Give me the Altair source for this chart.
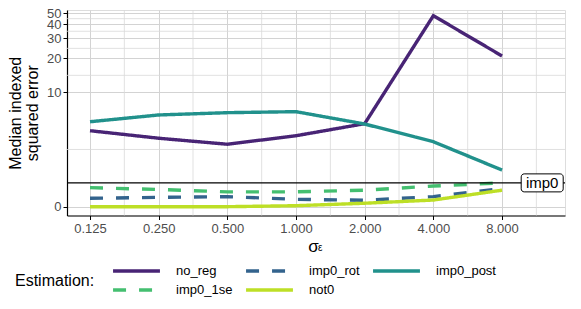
import altair as alt
import numpy as np
import pandas as pd

# ---- data ----
sigma = [0.125, 0.25, 0.5, 1.0, 2.0, 4.0, 8.0]
methods = ["no_reg", "imp0_rot", "imp0_post", "imp0_1se", "not0"]
no_reg = [4.43, 3.74, 3.25, 3.96, 5.17, 47.5, 21.0]
imp0_rot = [0.34, 0.38, 0.41, 0.30, 0.26, 0.41, 0.75]
imp0_post = [5.39, 6.23, 6.54, 6.68, 5.13, 3.45, 1.62]
imp0_1se = [0.79, 0.71, 0.61, 0.61, 0.68, 0.86, 1.00]
not0 = [0.0, 0.0, 0.0, 0.04, 0.14, 0.27, 0.68]
colors = ["#482475", "#33638D", "#21918C", "#44BF70", "#BDDF26"]
dashes = [[1, 0], [13, 13], [1, 0], [13, 13], [1, 0]]
y_breaks = [0, 10, 20, 30, 40, 50]
x_breaks = sigma
ref_value = [1.0]
ref_label = ["imp0"]
ref_label_x = [12.0]

series = {"no_reg": no_reg, "imp0_rot": imp0_rot, "imp0_post": imp0_post,
          "imp0_1se": imp0_1se, "not0": not0}
rows = []
for m in methods:
    for s, v in zip(sigma, series[m]):
        rows.append({"sigma": s, "value": v, "method": m})
df = pd.DataFrame(rows)

# pseudo-log (asinh) transform used by the y axis
def tr(v):
    return float(np.arcsinh(np.asarray(v) / 2.0))

y_break_t = [tr(b) for b in y_breaks]
y_minor_t = [(a + b) / 2 for a, b in zip(y_break_t[:-1], y_break_t[1:])]
lx = np.log2(x_breaks)
x_minor = [float(2 ** (a + 0.5)) for a in lx]

W, H = 498, 205.5
x_dom = [2 ** -3.335, 2 ** 3.917]
y_dom = [-0.178, 3.976]
FONT = "Liberation Sans"

xscale = alt.Scale(type="log", base=2, domain=x_dom, nice=False, zero=False)
yscale = alt.Scale(domain=y_dom, nice=False, zero=False)

calc = "log(datum.value/2 + sqrt(pow(datum.value/2, 2) + 1))"

x_axis = alt.Axis(values=x_breaks, format=".3f", title="σ", titleX=246, titlePadding=3,
                  titleFontSize=17, titleFont=FONT, titleFontWeight="normal", titleColor="black",
                  labelFontSize=13, labelColor="#4d4d4d", labelPadding=3, labelOverlap=False,
                  domainColor="black", domainWidth=1.2, tickColor="black", tickSize=4,
                  grid=True, gridColor="#d3d3d3", gridWidth=1)
y_axis = alt.Axis(values=y_break_t, labelExpr="format(round(exp(datum.value) - exp(-datum.value)), 'd')",
                  title=["Median indexed", "squared error"], titleFontSize=16, titleFont=FONT,
                  titleFontWeight="normal", titleColor="black", titlePadding=6, titleLineHeight=17,
                  labelFontSize=13, labelColor="#4d4d4d", labelPadding=2, labelOverlap=False,
                  domainColor="black", domainWidth=1.2, tickColor="black", tickSize=4,
                  grid=True, gridColor="#d3d3d3", gridWidth=1)

xminor_df = pd.DataFrame({"sigma": x_minor})
yminor_df = pd.DataFrame({"yt": y_minor_t})

xminor = alt.Chart(xminor_df).mark_rule(color="#d9d9d9", strokeWidth=0.8).encode(
    x=alt.X("sigma:Q", scale=xscale, axis=x_axis))
yminor = alt.Chart(yminor_df).mark_rule(color="#d9d9d9", strokeWidth=0.8).encode(
    y=alt.Y("yt:Q", scale=yscale, axis=y_axis))

lines = alt.Chart(df).transform_calculate(yt=calc).mark_line(strokeWidth=3.4, strokeCap="butt").encode(
    x=alt.X("sigma:Q", scale=xscale, axis=x_axis),
    y=alt.Y("yt:Q", scale=yscale, axis=y_axis),
    color=alt.Color("method:N", scale=alt.Scale(domain=methods, range=colors),
                    legend=alt.Legend(title="Estimation:", orient="none", legendX=-52, legendY=252,
                                      direction="horizontal", columns=3, titleOrient="left",
                                      titleFontSize=16, titleFont=FONT, titleFontWeight="normal",
                                      titleColor="black", titleAnchor="middle", titleBaseline="middle",
                                      titlePadding=16,
                                      labelFontSize=13, labelFont=FONT, labelColor="black",
                                      symbolType="stroke", symbolSize=2200, symbolStrokeWidth=3.4,
                                      labelOffset=14, columnPadding=11, rowPadding=1, clipHeight=18)),
    strokeDash=alt.StrokeDash("method:N", scale=alt.Scale(domain=methods, range=dashes), legend=None),
    order=alt.Order("sigma:Q"),
)

ref_df = pd.DataFrame({"value": ref_value})
hline = alt.Chart(ref_df).transform_calculate(yt=calc).mark_rule(color="black", strokeWidth=1.2).encode(
    y=alt.Y("yt:Q", scale=yscale, axis=y_axis))

lab_df = pd.DataFrame({"sigma": ref_label_x, "value": ref_value, "label": ref_label})
box = alt.Chart(lab_df).transform_calculate(yt=calc).mark_rect(
    fill="white", stroke="black", strokeWidth=1, cornerRadius=3,
    xOffset=-21, x2Offset=21, yOffset=-9, y2Offset=9).encode(
    x=alt.X("sigma:Q", scale=xscale), x2="sigma:Q",
    y=alt.Y("yt:Q", scale=yscale), y2="yt:Q")
txt = alt.Chart(lab_df).transform_calculate(yt=calc).mark_text(
    fontSize=15, font=FONT, color="black", align="center", baseline="middle").encode(
    x=alt.X("sigma:Q", scale=xscale), y=alt.Y("yt:Q", scale=yscale), text="label:N")

eps = alt.Chart(pd.DataFrame({"t": ["ε"]})).mark_text(
    fontSize=10, font=FONT, color="black", align="left", baseline="alphabetic").encode(
    x=alt.value(251), y=alt.value(241), text="t:N")

chart = alt.layer(xminor, yminor, lines, hline, box, txt, eps).properties(
    width=W, height=H,
    autosize=alt.AutoSizeParams(type="none"),
    padding={"left": 59, "top": 2, "right": 8, "bottom": 85},
).configure_view(stroke=None).configure(font=FONT)

chart.save("out.html", embed_options={"renderer": "svg", "actions": False})
